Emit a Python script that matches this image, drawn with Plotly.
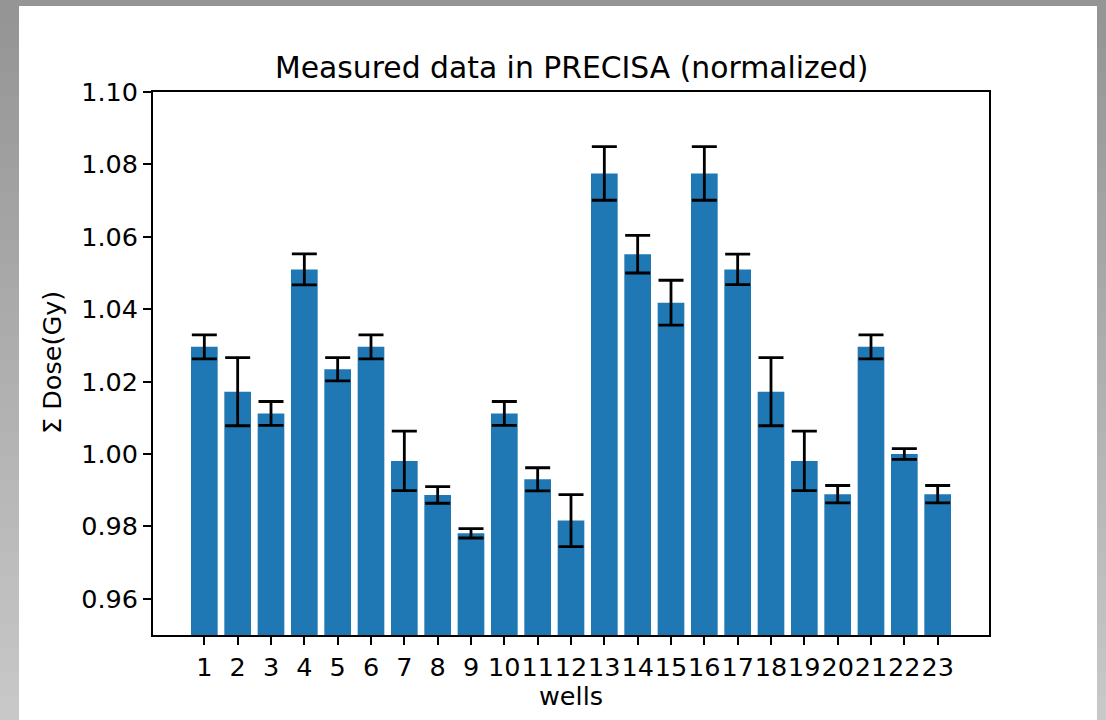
import plotly.graph_objects as go

# Normalized summed dose per well, with measurement uncertainty
wells = list(range(1, 24))
dose = [1.0296, 1.0172, 1.0112, 1.0510, 1.0234, 1.0296, 0.9981, 0.9887, 0.9781, 1.0112,
        0.9930, 0.9816, 1.0775, 1.0552, 1.0418, 1.0775, 1.0510, 1.0172, 0.9981, 0.9889,
        1.0296, 1.0000, 0.9889]
dose_err = [0.0033, 0.0094, 0.0033, 0.0043, 0.0032, 0.0033, 0.0082, 0.0023, 0.0013, 0.0033,
            0.0032, 0.0072, 0.0074, 0.0052, 0.0062, 0.0074, 0.0042, 0.0094, 0.0082, 0.0024,
            0.0033, 0.0015, 0.0024]
y_ticks = [0.96, 0.98, 1.00, 1.02, 1.04, 1.06, 1.08, 1.10]

W, H = 1106, 720
L, R, T, B = 153, 989, 92, 635
FONT = "DejaVu Sans"
TICK_SIZE = 25.5
TITLE_SIZE = 29.8


def px_x(px):
    return (px - L) / (R - L)


def px_y(py):
    return (B - py) / (B - T)


fig = go.Figure()
fig.add_trace(go.Bar(
    x=wells, y=dose, width=0.8,
    marker=dict(color="#1f77b4", line=dict(width=0)),
    error_y=dict(type="data", array=dose_err, visible=True,
                 color="black", thickness=2.8, width=12.5),
))

# grey frame around the white figure (vertical gradient)
shapes = []
steps = 30
for i in range(steps):
    y0 = H * i / steps
    y1 = H * (i + 1) / steps + 0.5
    g = int(149 + (200 - 149) * i / (steps - 1))
    col = f"rgb({g},{g},{g})"
    for x0, x1 in [(0, 19), (1097, W)]:
        shapes.append(dict(type="rect", xref="paper", yref="paper", layer="below",
                           x0=px_x(x0), x1=px_x(x1), y0=px_y(y1), y1=px_y(y0),
                           fillcolor=col, line=dict(width=0)))
shapes.append(dict(type="rect", xref="paper", yref="paper", layer="below",
                   x0=px_x(0), x1=px_x(W), y0=px_y(6), y1=px_y(0),
                   fillcolor="rgb(149,149,149)", line=dict(width=0)))

annotations = [
    dict(text="Measured data in PRECISA (normalized)", x=px_x(571), y=px_y(87),
         xref="paper", yref="paper", xanchor="center", yanchor="bottom",
         showarrow=False, font=dict(family=FONT, size=TITLE_SIZE, color="black")),
    dict(text="wells", x=px_x(571), y=px_y(696), xref="paper", yref="paper",
         xanchor="center", yanchor="middle", showarrow=False,
         font=dict(family=FONT, size=TICK_SIZE, color="black")),
    dict(text="Σ Dose(Gy)", x=px_x(52), y=px_y(363), xref="paper", yref="paper",
         xanchor="center", yanchor="middle", textangle=-90, showarrow=False,
         font=dict(family=FONT, size=TICK_SIZE, color="black")),
]

axis_common = dict(showline=True, mirror=True, linecolor="black", linewidth=1.9,
                   ticks="outside", ticklen=8, tickwidth=1.9, tickcolor="black",
                   showgrid=False, zeroline=False, tickangle=0,
                   tickfont=dict(family=FONT, size=TICK_SIZE, color="black"))

fig.update_layout(
    width=W, height=H,
    margin=dict(l=L, r=W - R, t=T, b=H - B, pad=0),
    paper_bgcolor="white", plot_bgcolor="white",
    showlegend=False,
    shapes=shapes, annotations=annotations,
    xaxis=dict(range=[-0.54, 24.54], tickvals=wells, ticktext=[str(w) for w in wells],
               **axis_common),
    yaxis=dict(range=[0.95, 1.10], tickvals=y_ticks, tickformat=".2f", **axis_common),
)

fig.write_html("out.html")
